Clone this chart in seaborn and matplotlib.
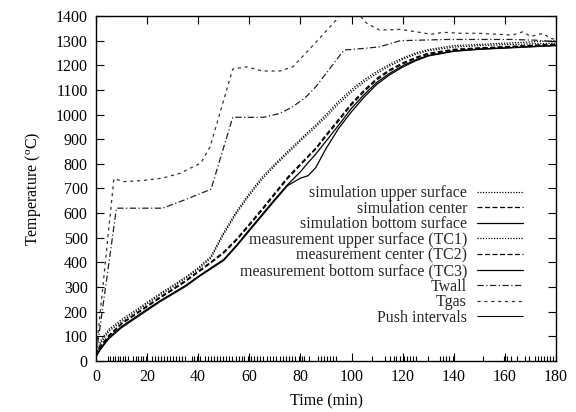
import numpy as np
import pandas as pd
import matplotlib
matplotlib.use("Agg")
import matplotlib.pyplot as plt
import seaborn as sns

# ---------------- data ----------------
t_curve = [0, 2, 5, 10, 15, 20, 25, 30, 35, 40, 45, 50, 55, 60, 65, 70, 75, 80,
           83, 86, 90, 95, 100, 105, 110, 115, 120, 125, 130, 140, 150, 160, 170, 180]

sim_upper = [25, 75, 120, 160, 195, 232, 268, 300, 335, 372, 418, 515, 600, 672, 738, 793, 843, 893,
             922, 950, 990, 1045, 1092, 1133, 1168, 1198, 1224, 1244, 1259, 1274, 1280, 1284, 1287, 1290]
meas_upper = [30, 85, 128, 168, 202, 238, 273, 306, 340, 378, 425, 522, 607, 680, 746, 800, 850, 900,
              930, 958, 1000, 1055, 1102, 1142, 1176, 1205, 1230, 1250, 1264, 1280, 1285, 1290, 1295, 1300]
sim_center = [20, 60, 100, 150, 185, 220, 255, 288, 322, 360, 398, 438, 490, 550, 612, 676, 740, 795,
              828, 860, 912, 975, 1040, 1094, 1142, 1178, 1205, 1228, 1245, 1262, 1269, 1274, 1279, 1284]
meas_center = [22, 64, 104, 153, 188, 224, 259, 292, 326, 364, 402, 443, 495, 556, 618, 682, 746, 800,
               832, 864, 918, 982, 1046, 1100, 1148, 1183, 1210, 1232, 1249, 1265, 1271, 1276, 1281, 1286]
sim_bottom = [20, 55, 95, 140, 175, 210, 244, 275, 306, 343, 378, 412, 470, 533, 595, 657, 716, 768,
              805, 840, 892, 958, 1026, 1082, 1132, 1168, 1198, 1222, 1240, 1258, 1266, 1271, 1276, 1281]
meas_bottom = [18, 50, 90, 135, 170, 205, 240, 271, 302, 340, 374, 408, 466, 528, 590, 652, 712, 742,
               752, 785, 862, 945, 1012, 1072, 1124, 1162, 1193, 1218, 1238, 1257, 1265, 1270, 1275, 1280]

t_wall = [0, 8, 15, 26, 35, 45, 53.5, 60, 65.5, 72, 77, 82, 86, 91, 97, 104, 111, 119, 137, 150, 163, 172, 180]
twall = [20, 620, 620, 620, 655, 697, 989, 989, 989, 1005, 1032, 1070, 1113, 1180, 1262, 1268, 1275, 1300,
         1305, 1305, 1305, 1302, 1296]

t_gas = [0, 7, 11, 18, 26, 33, 37, 41, 44.6, 53.5, 59, 65, 72, 77, 85, 94, 99, 103, 106, 111, 119, 126,
         131, 136, 143, 150, 157, 163, 167, 170, 172.6, 175, 177.6, 180]
tgas = [30, 740, 728, 732, 742, 762, 783, 803, 868, 1185, 1194, 1177, 1177, 1194, 1282, 1384, 1450, 1405,
        1370, 1343, 1346, 1335, 1326, 1334, 1330, 1330, 1326, 1323, 1336, 1318, 1323, 1330, 1310, 1305]

push_times = [4.5, 5.5, 6.5, 7.5, 8.5, 9.5, 10.5, 11.5, 12.5, 14.5, 15.5, 16.5, 17.5, 18.5, 19.5,
              22, 23, 24.2, 25.4, 26.6, 27.8, 29, 30.2, 31.4, 32.6, 33.8, 35, 37.5, 38.5, 39.5,
              40.5, 42.5, 43.7, 45, 46.2, 47.4, 48.6, 49.8, 51, 52.2, 53.4, 54.6, 55.8, 57, 58,
              59.3, 60.5, 61.7, 63, 64.2, 65.5, 66.8, 68, 69.3, 70.5, 71.8, 73, 74.3, 75.5, 76.8,
              78, 79.3, 80.5, 81.5, 83.3, 86.8, 88, 89.2, 90.4, 91.6, 92.8, 94,
              107.8, 113.2, 115.2, 116.5, 117.5, 119, 120.5, 121.7, 122.9, 124, 125.3, 130,
              134.6, 135.8, 137, 138.3, 139.5, 151.5, 159.5, 161, 162.3, 164.7, 168, 169.5,
              171.8, 173, 174.2, 175.4, 176.6, 177.8, 179]
push_height = 20

x_ticks = [0, 20, 40, 60, 80, 100, 120, 140, 160, 180]
y_ticks = list(range(0, 1401, 100))

# ---------------- style ----------------
sns.set_theme(style="ticks")
plt.rcParams['font.family'] = ['Liberation Serif', 'DejaVu Serif']
plt.rcParams['mathtext.fontset'] = 'custom'
plt.rcParams['mathtext.rm'] = 'Liberation Serif'
plt.rcParams['mathtext.it'] = 'Liberation Serif:italic'

FS = 11.5

fig = plt.figure(figsize=(5.76, 4.12), dpi=100)
ax = fig.add_axes([0.1667, 0.124, 0.7986, 0.837])

lw = 0.9
series = [
    ("simulation upper surface", t_curve, sim_upper, (0, (1, 1.2)), 'black'),
    ("simulation center", t_curve, sim_center, (0, (4, 2)), 'black'),
    ("simulation bottom surface", t_curve, sim_bottom, '-', 'black'),
    ("measurement upper surface (TC1)", t_curve, meas_upper, (0, (1, 1.2)), 'black'),
    ("measurement center (TC2)", t_curve, meas_center, (0, (4, 2)), 'black'),
    ("measurement bottom surface (TC3)", t_curve, meas_bottom, '-', 'black'),
    ("Twall", t_wall, twall, (0, (5, 2, 1, 2)), '#222222'),
    ("Tgas", t_gas, tgas, (0, (2.5, 3)), '#333333'),
]
for name, tx, ty, ls, col in series:
    df = pd.DataFrame({"t": tx, "T": ty})
    sns.lineplot(data=df, x="t", y="T", ax=ax, color=col, linewidth=lw,
                 linestyle=ls, label=name, sort=False)

ax.vlines(push_times, 0, push_height, colors='black', linewidth=0.8, label="Push intervals")

ax.set_xlim(0, 180)
ax.set_ylim(0, 1400)
ax.set_xticks(x_ticks)
ax.set_yticks(y_ticks)
ax.tick_params(direction='in', top=True, right=True, length=6, width=0.8,
               labelsize=FS, colors='black', pad=6)
for s in ax.spines.values():
    s.set_linewidth(1.0)
    s.set_color('black')

ax.set_xlabel("Time (min)", fontsize=FS, color='black', labelpad=6)
ax.set_ylabel(r"Temperature ($^{\rm o}$C)", fontsize=FS, color='black', labelpad=9)

leg = ax.legend(loc='lower right', bbox_to_anchor=(0.943, 0.083), frameon=False,
                markerfirst=False, fontsize=FS, handlelength=2.9, handletextpad=0.63,
                labelspacing=-0.025, borderaxespad=0)
for txt in leg.get_texts():
    txt.set_ha('right')
leg._legend_box.align = "right"

fig.savefig("out.png", dpi=100)
